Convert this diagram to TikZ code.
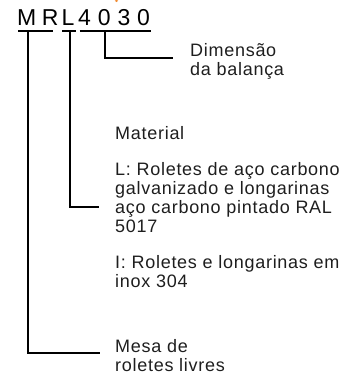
\documentclass[tikz,border=0pt]{standalone}
\usepackage{fontspec}
\setmainfont{Liberation Sans}
\newfontfamily\hdrfontA[LetterSpace=24]{Liberation Sans}
\newfontfamily\hdrfontB[LetterSpace=30]{Liberation Sans}
\newfontfamily\bodyfont[LetterSpace=4]{Liberation Sans}
\definecolor{txt}{HTML}{1E1E1E}
\definecolor{accent}{HTML}{F08A30}
\tikzset{
  hdr/.style={anchor=base west, inner sep=0pt, text=black},
  hdrA/.style={hdr, font=\hdrfontA\fontsize{23}{23}\selectfont},
  hdrB/.style={hdr, font=\hdrfontB\fontsize{23}{23}\selectfont},
  lbl/.style={anchor=base west, inner sep=0pt, text=txt, align=left, font=\bodyfont\fontsize{18}{19}\selectfont},
  rule/.style={line width=2pt, black},
  leader/.style={line width=2pt, black, line join=miter}
}
\begin{document}
\begin{tikzpicture}[x=1pt,y=-1pt]
\useasboundingbox (0,0) rectangle (361,376);
\fill[accent] (116.5,0.8) ellipse (1.6 and 1.2);
% header groups (base anchor = baseline)
\node[hdrA] (mr) at (17,25.5) {MR};
\node[hdrB] (l) at (61.5,25.5) {L};
\node[hdrB] (dim) at (78,25.5) {4030};
% underlines
\coordinate (u1a) at (18,30.5); \coordinate (u1b) at (53,30.5);
\coordinate (u2a) at (62,30.5);   \coordinate (u2b) at (75.5,30.5);
\coordinate (u3a) at (79.5,30.5); \coordinate (u3b) at (151,30.5);
\draw[rule] (u1a) -- (u1b);
\draw[rule] (u2a) -- (u2b);
\draw[rule] (u3a) -- (u3b);
% labels (base anchor = baseline of last line)
\node[lbl] (tdim) at (190,75) {Dimensão\\da balança};
\node[lbl] (tmat) at (115,139) {Material};
\node[lbl] (tl) at (115,232) {L: Roletes de aço carbono\\galvanizado e longarinas\\aço carbono pintado RAL\\5017};
\node[lbl] (ti) at (115,287) {I: Roletes e longarinas em\\inox 304};
\node[lbl] (tmesa) at (115,371) {Mesa de\\roletes livres};
% leaders
\coordinate (s1) at (27.5,30.5); \coordinate (e1) at (100,353);
\coordinate (s2) at (70,30.5);   \coordinate (e2) at (99,207);
\coordinate (s3) at (104.5,30.5); \coordinate (e3) at (173,58);
\draw[leader] (s1) |- (e1);
\draw[leader] (s2) |- (e2);
\draw[leader] (s3) |- (e3);
\end{tikzpicture}
\end{document}
